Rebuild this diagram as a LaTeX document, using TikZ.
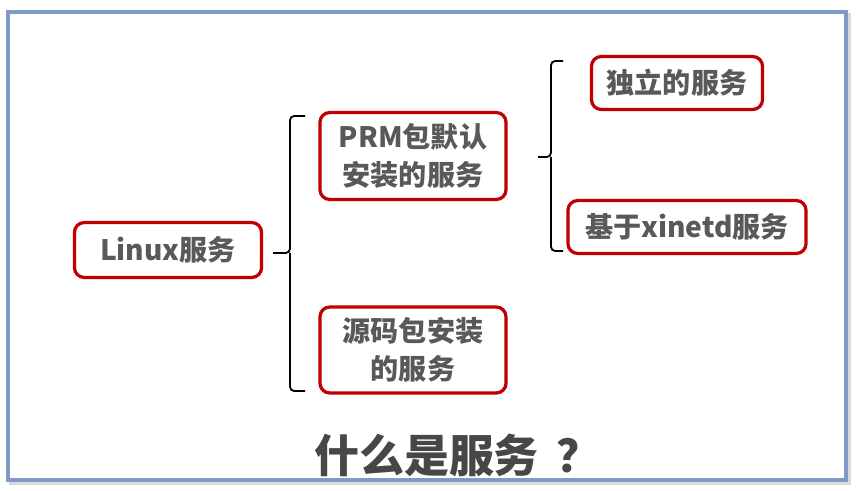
\documentclass[tikz,border=0pt]{standalone}
\usepackage{fontspec}
\newfontfamily\cjk{Noto Sans CJK SC}
\usetikzlibrary{positioning}
\definecolor{boxRed}{HTML}{C00000}
\definecolor{txtGray}{HTML}{595959}
\definecolor{frameBlue}{HTML}{7F9AC9}
\tikzstyle{stdText} = [align=center, inner sep=0pt, text=txtGray, font=\cjk\bfseries\fontsize{20}{27}\selectfont]
\tikzstyle{item} = [stdText, draw=boxRed, line width=2.3pt, rounded corners=7pt]
\tikzstyle{brk} = [line width=1.3pt, rounded corners=3pt]
\tikzstyle{bigText} = [stdText, font=\cjk\bfseries\fontsize{32}{40}\selectfont, text=black!72]

\begin{document}
\begin{tikzpicture}[x=0.025cm, y=-0.025cm]
    \useasboundingbox (0,0) rectangle (858,491);
    % frame with a light shadow
    \draw [line width=3pt, black!15] (11,15) rectangle (849,483);
    \draw [line width=2.6pt, frameBlue, fill=white] (8,12) rectangle (846,480);

    % the boxes
    \node (linux) [item, minimum width=4.675cm, minimum height=1.375cm] at (168,250) {Linux服务};
    \node (prm) [item, minimum width=4.65cm, minimum height=2.175cm] at (413,156) {PRM包默认\\安装的服务};
    \node (src) [item, minimum width=4.65cm, minimum height=2.15cm] at (413,350) {源码包安装\\的服务};
    \node (indep) [item, minimum width=4.275cm, minimum height=1.325cm] at (677,83) {独立的服务};
    \node (xinetd) [item, minimum width=5.95cm, minimum height=1.325cm] at (687,227) {基于xinetd服务};

    \node (title) [bigText] at (458,455) {什么是服务\hspace{0.4em}？};

    % first bracket
    \coordinate (b1tip) at (273,253);
    \coordinate (b1mid) at (290,253);
    \coordinate (b1top) at (305,116);
    \coordinate (b1bot) at (305,391);
    \draw [brk] (b1top) -| (b1mid) -- (b1tip);
    \draw [brk] (b1bot) -| (b1mid);

    % second bracket
    \coordinate (b2tip) at (538,157);
    \coordinate (b2mid) at (551,157);
    \coordinate (b2top) at (563,61);
    \coordinate (b2bot) at (563,251);
    \draw [brk] (b2top) -| (b2mid) -- (b2tip);
    \draw [brk] (b2bot) -| (b2mid);
\end{tikzpicture}
\end{document}
